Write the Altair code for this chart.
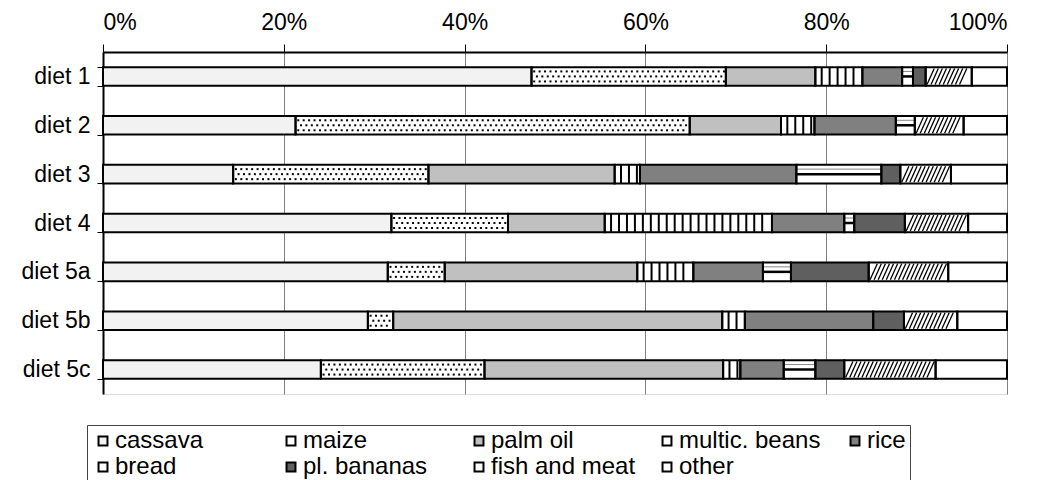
import altair as alt
import pandas as pd

diets = ["diet 1", "diet 2", "diet 3", "diet 4", "diet 5a", "diet 5b", "diet 5c"]
foods = ["cassava", "maize", "palm oil", "multic. beans", "rice", "bread",
         "pl. bananas", "fish and meat", "other"]
cassava = [47.4, 21.3, 14.4, 31.9, 31.5, 29.3, 24.1]
maize = [21.5, 43.6, 21.6, 12.9, 6.3, 2.8, 18.1]
palm_oil = [9.9, 10.1, 20.6, 10.7, 21.3, 36.4, 26.4]
multic_beans = [5.2, 3.7, 2.8, 18.5, 6.2, 2.5, 1.9]
rice = [4.4, 9.0, 17.3, 8.0, 7.7, 14.2, 4.8]
bread = [1.2, 2.1, 9.4, 1.1, 3.1, 0.0, 3.5]
pl_bananas = [1.4, 0.0, 2.1, 5.6, 8.6, 3.4, 3.2]
fish_and_meat = [5.1, 5.4, 5.6, 7.0, 8.8, 5.9, 10.1]
other = [3.9, 4.8, 6.2, 4.3, 6.5, 5.5, 7.9]
tick_values = [0, 20, 40, 60, 80, 100]

fills = ["#f2f2f2", "#ffffff", "#c0c0c0", "#ffffff", "#808080", "#ffffff",
         "#5f5f5f", "#ffffff", "#ffffff"]

series = [cassava, maize, palm_oil, multic_beans, rice, bread, pl_bananas,
          fish_and_meat, other]
rows = []
for fi, (food, vals) in enumerate(zip(foods, series)):
    for d, v in zip(diets, vals):
        rows.append({"diet": d, "food": food, "value": v, "order": fi})
df = pd.DataFrame(rows)

FONT = "Liberation Sans"
FS = 23
LFS = 24

base = (
    alt.Chart(df)
    .transform_filter("datum.value > 0")
    .transform_stack(stack="value", groupby=["diet"], as_=["x0", "x1"],
                     sort=[alt.SortField("order", order="ascending")])
)

Y = alt.Y("diet:N", sort=diets, title=None,
          scale=alt.Scale(paddingInner=0.62, paddingOuter=0.31))

bars = base.mark_bar(strokeWidth=0).encode(
    x=alt.X("x0:Q", title=None,
            scale=alt.Scale(domain=[0, 100], nice=False, zero=True),
            axis=alt.Axis(orient="top", values=tick_values,
                          labelExpr="datum.value + '%'", tickSize=8,
                          grid=True, gridColor="#808080", gridWidth=1,
                          labelPadding=10, domainWidth=2, domainColor="black",
                          tickColor="black", labelFont=FONT, labelFontSize=FS,
                          labelColor="black")),
    x2="x1:Q",
    y=alt.Y("diet:N", sort=diets, title=None,
            scale=alt.Scale(paddingInner=0.62, paddingOuter=0.31),
            axis=alt.Axis(tickBand="extent", tickSize=6, labelPadding=7,
                          domainWidth=2, domainColor="black", tickColor="black",
                          labelFont=FONT, labelFontSize=FS, labelColor="black",
                          grid=False)),
    fill=alt.Fill("food:N", scale=alt.Scale(domain=foods, range=fills),
                  legend=alt.Legend(orient="none", legendX=-16, legendY=373,
                                    direction="horizontal", columns=5,
                                    title=None, symbolType="square",
                                    symbolSize=80, symbolStrokeColor="black",
                                    symbolStrokeWidth=2, symbolOffset=0,
                                    labelFont=FONT, labelFontSize=LFS,
                                    labelColor="black", labelOffset=0,
                                    columnPadding=19, rowPadding=2,
                                    gridAlign="all", strokeColor="#444444",
                                    padding=4)),
)

maize_b = base.transform_filter("datum.food == 'maize'")
dots_a = maize_b.transform_calculate(
    xs="sequence(datum.x0 + 0.3, datum.x1 - 0.15, 0.6)"
).transform_flatten(["xs"])
dots_b = maize_b.transform_calculate(
    xs="sequence(datum.x0 + 0.6, datum.x1 - 0.15, 0.6)"
).transform_flatten(["xs"])
dot1 = dots_a.mark_square(size=4, color="black", opacity=1, yOffset=-5).encode(
    x=alt.X("xs:Q", title=None), y=Y)
dot2 = dots_b.mark_square(size=4, color="black", opacity=1, yOffset=0).encode(
    x=alt.X("xs:Q", title=None), y=Y)
dot3 = dots_a.mark_square(size=4, color="black", opacity=1, yOffset=5).encode(
    x=alt.X("xs:Q", title=None), y=Y)

beans_l = (
    base.transform_filter("datum.food == 'multic. beans'")
    .transform_calculate(xs="sequence(datum.x0 + 0.7, datum.x1 - 0.3, 0.88)")
    .transform_flatten(["xs"])
    .mark_tick(color="black", thickness=2, size=18, opacity=1)
    .encode(x=alt.X("xs:Q", title=None), y=Y)
)

bread_b = base.transform_filter("datum.food == 'bread'")
bread1 = bread_b.mark_rule(color="black", strokeWidth=2.5).encode(
    x=alt.X("x0:Q", title=None), x2="x1:Q", y=Y)
bread2 = bread_b.mark_rule(color="#888888", strokeWidth=1, yOffset=-5).encode(
    x=alt.X("x0:Q", title=None), x2="x1:Q", y=Y)

fish_l = (
    base.transform_filter("datum.food == 'fish and meat'")
    .transform_calculate(xs="sequence(datum.x0 + 0.15, datum.x1 - 0.9, 0.45)")
    .transform_flatten(["xs"])
    .transform_calculate(xe="datum.xs + 0.8")
    .mark_rule(color="black", strokeWidth=1.3, yOffset=8, y2Offset=-8)
    .encode(x=alt.X("xs:Q", title=None), x2="xe:Q", y=Y, y2=alt.Y2("diet"))
)

outline = base.mark_bar(fillOpacity=0, stroke="black", strokeWidth=2).encode(
    x=alt.X("x0:Q", title=None), x2="x1:Q", y=Y)

chart = (
    alt.layer(bars, dot1, dot2, dot3, beans_l, bread1, bread2, fish_l, outline)
    .properties(width=904, height=342,
                autosize=alt.AutoSizeParams(type="none"),
                padding={"left": 103, "top": 52, "right": 32, "bottom": 86})
    .configure_view(stroke="black", strokeWidth=2)
    .configure(background="white")
)

chart.save("out.html", embed_options={"renderer": "svg", "actions": False})
